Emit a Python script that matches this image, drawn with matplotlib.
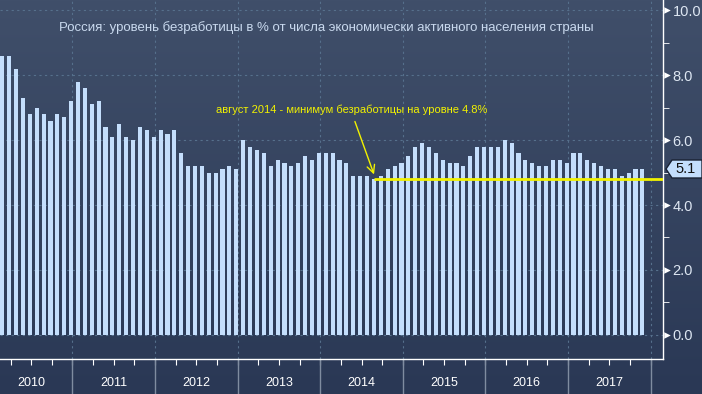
import numpy as np
import matplotlib.pyplot as plt
import matplotlib.transforms as mtransforms
from matplotlib.patches import Polygon

plt.rcParams['font.family'] = ['Liberation Sans', 'DejaVu Sans']

# %% данные: безработица в России, % (месячные, февраль 2010 - ноябрь 2017)
start_year = 2010
first_month = 1  # февраль 2010 (0 = январь)
unemployment = [
    8.6, 8.6, 8.2, 7.3, 6.8, 7.0, 6.8, 6.6, 6.8, 6.7, 7.2,             # 2010
    7.8, 7.6, 7.1, 7.2, 6.4, 6.1, 6.5, 6.1, 6.0, 6.4, 6.3, 6.1,        # 2011
    6.3, 6.2, 6.3, 5.6, 5.2, 5.2, 5.2, 5.0, 5.0, 5.1, 5.2, 5.1,        # 2012
    6.0, 5.8, 5.7, 5.6, 5.2, 5.4, 5.3, 5.2, 5.3, 5.5, 5.4, 5.6,        # 2013
    5.6, 5.6, 5.4, 5.3, 4.9, 4.9, 4.9, 4.8, 4.9, 5.1, 5.2, 5.3,        # 2014
    5.5, 5.8, 5.9, 5.8, 5.6, 5.4, 5.3, 5.3, 5.2, 5.5, 5.8, 5.8,        # 2015
    5.8, 5.8, 6.0, 5.9, 5.6, 5.4, 5.3, 5.2, 5.2, 5.4, 5.4, 5.3,        # 2016
    5.6, 5.6, 5.4, 5.3, 5.2, 5.1, 5.1, 4.9, 5.0, 5.1, 5.1,             # 2017
]
years = ['2010', '2011', '2012', '2013', '2014', '2015', '2016', '2017']
y_ticks = [0, 2, 4, 6, 8, 10]
min_month = 12 * 4 + 7   # август 2014
min_value = 4.8
last_value = 5.1
title = 'Россия: уровень безработицы в % от числа экономически активного населения страны'
note = 'август 2014 - минимум безработицы на уровне 4.8%'

W, H = 702, 394
bar_color = '#c4defc'
grid_color = '#56708c'
yellow = '#f2f200'
light = '#dde6f2'

# %% фигура с градиентным фоном
fig = plt.figure(figsize=(W / 100, H / 100), dpi=100)
bg = fig.add_axes([0, 0, 1, 1], zorder=-10)
top_c = np.array([0x40, 0x4f, 0x6a]) / 255
bot_c = np.array([0x2a, 0x38, 0x55]) / 255
t = np.linspace(0, 1, 256)[:, None]
grad = top_c * (1 - t) + bot_c * t
bg.imshow(grad[:, None, :], aspect='auto', extent=[0, 1, 0, 1])
bg.axis('off')

ax = fig.add_axes([0, 35 / H, 663 / W, 359 / H])
ax.patch.set_alpha(0)

months = np.arange(len(unemployment)) + first_month
ax.bar(months + 0.8, unemployment, width=0.6, color=bar_color, zorder=3)

# сетка
for yv in y_ticks:
    ax.axhline(yv, color=grid_color, lw=0.8, ls=(0, (2, 3)), zorder=1)
for k in range(1, len(years) + 1):
    ax.axvline(12 * k, color=grid_color, lw=0.8, ls=(0, (2, 3)), zorder=1)

# оси
for s in ['left', 'top']:
    ax.spines[s].set_visible(False)
for s in ['bottom', 'right']:
    ax.spines[s].set_color('white')
    ax.spines[s].set_linewidth(1.0)

ax.set_xticks(np.arange(0, 12 * len(years) + 1, 3))
ax.tick_params(axis='x', direction='out', length=4, color='white',
               labelbottom=False)
ax.yaxis.tick_right()
ax.set_yticks(y_ticks)
ax.set_yticklabels(['%.1f' % v for v in y_ticks])
ax.set_yticks([1, 3, 5, 7, 9], minor=True)
ax.tick_params(axis='y', which='major', length=0, pad=7, labelsize=10.5,
               labelcolor=light)
ax.tick_params(axis='y', which='minor', length=4, color='white')

ax.set_xlim(1.47, 97.8)
ax.set_ylim(-0.74, 10.31)

# треугольники у меток
tri_tr = mtransforms.blended_transform_factory(ax.transAxes, ax.transData) + \
    mtransforms.ScaledTranslation(3.5 / 100, 0, fig.dpi_scale_trans)
ax.scatter([1] * len(y_ticks), y_ticks, marker='>', s=22, color='white',
           transform=tri_tr, clip_on=False, zorder=5, linewidths=0)

# подписи годов и разделители
sep_tr = mtransforms.blended_transform_factory(ax.transData, ax.transAxes)
for k, year in enumerate(years):
    ax.text(12 * k + 6, -24 / 359, year, transform=sep_tr, ha='center',
            va='center', color='white', fontsize=9)
    ax.plot([12 * (k + 1)] * 2, [0, -35 / 359], transform=sep_tr,
            color='#7f8ca0', lw=1, clip_on=False)

# заголовок
ax.text(326 / 663, 1 - 28 / 359, title, transform=ax.transAxes, ha='center',
        va='center', color='#c9d9ee', fontsize=9.5)

# минимум августа 2014
ax.plot([min_month + 0.8, 97.8], [min_value, min_value], color=yellow,
        lw=2, zorder=4, solid_capstyle='butt')
ax.annotate('', xy=(min_month + 0.95, min_value + 0.06), xytext=(52.9, 6.65),
            arrowprops=dict(arrowstyle='->', color=yellow, lw=1,
                            mutation_scale=14), zorder=6)
ax.text(52.5, 6.92, note, ha='center', va='center', color=yellow, fontsize=8,
        zorder=6)

ax.set_xlim(1.47, 97.8)
ax.set_ylim(-0.74, 10.31)

# метка последнего значения
yp = 169
pts = [(666, yp), (672, yp - 9), (702, yp - 9), (702, yp + 9), (672, yp + 9)]
poly = Polygon([(x / W, 1 - y / H) for x, y in pts], closed=True,
               transform=fig.transFigure, facecolor=bar_color,
               edgecolor='#1a2233', lw=1, zorder=10)
fig.patches.append(poly)
fig.text(686 / W, 1 - yp / H, '%.1f' % last_value, ha='center', va='center',
         color='#111111', fontsize=10.5, zorder=11)

plt.savefig('out.png', dpi=100)
